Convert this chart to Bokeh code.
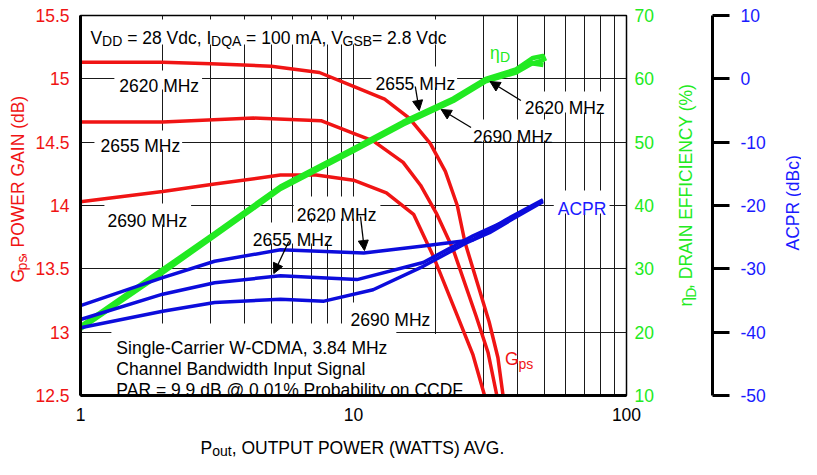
import math
from bokeh.plotting import figure
from bokeh.layouts import row, column
from bokeh.models import (Range1d, LinearAxis, FixedTicker, LogTickFormatter, Label,
                          Arrow, NormalHead, BoxAnnotation)
from bokeh.core.validation import silence
from bokeh.core.validation.warnings import MISSING_RENDERERS
from bokeh.embed import file_html
from bokeh.resources import INLINE

silence(MISSING_RENDERERS, True)

# ---------------- data ----------------
# Power gain (dB) vs Pout (W)
gps_p_2620 = [1, 2, 3, 5, 7.5, 10, 13, 16, 19.1, 21.7, 24, 25.6, 28.4, 31.4, 33.8, 35.3]
gps_2620 = [15.13, 15.13, 15.12, 15.10, 15.05, 14.94, 14.84, 14.69, 14.49, 14.27, 14.0, 13.71, 13.39, 13.08, 12.80, 12.5]
gps_p_2655 = [1, 2, 4.3, 7.6, 10, 11.8, 15.2, 17.6, 20.1, 23.2, 28.1, 31.1, 33.5]
gps_2655 = [14.66, 14.66, 14.69, 14.67, 14.57, 14.51, 14.34, 14.16, 13.94, 13.65, 13.13, 12.84, 12.5]
gps_p_2690 = [1, 2, 3.1, 5.4, 7.3, 10, 13.2, 16.6, 19.6, 23.8, 27.4, 30.2]
gps_2690 = [14.03, 14.11, 14.17, 14.24, 14.24, 14.20, 14.10, 13.93, 13.60, 13.15, 12.82, 12.5]

# Drain efficiency (%) vs Pout (W)
eff_p_2620 = [1, 2, 3.1, 5.4, 10, 15.2, 23.2, 30.5, 39.4, 45.4, 49.4, 50.3]
eff_2620 = [20.9, 29.9, 35.6, 43.0, 49.0, 53.2, 56.9, 60.0, 61.5, 63.3, 63.6, 62.8]
eff_p_2655 = [1, 2, 3.1, 5.4, 10, 15.2, 23.2, 30.5, 39.4, 44.3, 49.6]
eff_2655 = [20.7, 29.6, 35.4, 42.8, 48.8, 53.0, 56.7, 59.8, 61.2, 62.5, 62.2]
eff_p_2690 = [1, 2, 3.1, 5.4, 10, 15.2, 23.2, 30.5, 39.4, 45.0, 50.0]
eff_2690 = [20.5, 29.4, 35.2, 42.6, 48.6, 52.8, 56.5, 59.6, 61.0, 62.4, 63.0]

# ACPR (dBc) vs Pout (W)
acpr_p_2620 = [1, 2, 3.1, 5.4, 10.9, 18, 27.4, 36.3, 49.4]
acpr_2620 = [-35.8, -31.4, -28.8, -27.0, -27.5, -26.4, -25.4, -22.2, -19.1]
acpr_p_2655 = [1, 2, 3.1, 5.4, 10.3, 18, 27.4, 36.3, 49.4]
acpr_2655 = [-38.0, -34.0, -32.2, -31.1, -31.7, -29.0, -24.8, -22.4, -19.3]
acpr_p_2690 = [1, 2, 3.1, 5.4, 7.8, 11.8, 18, 25.9, 31.5, 38.4, 49.4]
acpr_2690 = [-39.3, -36.7, -35.3, -34.8, -35.1, -33.3, -29.6, -25.9, -24.3, -22.1, -19.4]

gain_ticks = [12.5, 13, 13.5, 14, 14.5, 15, 15.5]
gain_tick_labels = ["12.5", "13", "13.5", "14", "14.5", "15", "15.5"]
eff_ticks = [10, 20, 30, 40, 50, 60, 70]
acpr_ticks = [-50, -40, -30, -20, -10, 0, 10]
acpr_tick_labels = ["-50", "-40", "-30", "-20", "-10", "0", "10"]
x_tick_labels = {1: "1", 10: "10", 100: "100"}

# ---------------- style ----------------
FONT = "Liberation Sans"
MAIN = "17.5px"
SUB = "14px"
TICK = "17.5px"
RED = "#f01414"
GREEN = "#22ea22"
BLUE = "#0c0cdc"
BLUE_T = "#1a1aff"
GRID = "#1a1a1a"

ROW_H = 427          # height of the top row (page y 8..435)
FL, FT, FW, FH = 86, 23, 548, 380   # frame position on the page (px)
BOT = ROW_H - 15 - FH


def X(px):
    return 10 ** (2.0 * (px - FL) / FW)


def Y(py):
    return 12.5 + 3.0 * (FT + FH - py) / FH


# ---------------- main plot ----------------
p = figure(width=636, height=ROW_H, x_axis_type="log", title=None,
           x_range=(1, 100), y_range=(12.5, 15.5),
           output_backend="svg", toolbar_location=None,
           min_border_left=46, min_border_right=42, min_border_top=15,
           min_border_bottom=BOT, background_fill_color="white",
           border_fill_color="white", outline_line_color="black",
           outline_line_width=1.5)

p.extra_y_ranges = {"eff": Range1d(10, 70), "acpr": Range1d(-50, 10)}

p.xgrid.grid_line_color = GRID
p.xgrid.minor_grid_line_color = GRID
p.xgrid.grid_line_width = 1
p.xgrid.minor_grid_line_width = 1
p.ygrid.grid_line_color = GRID
p.ygrid.grid_line_width = 1

ya = p.yaxis[0]
ya.ticker = FixedTicker(ticks=gain_ticks)
ya.major_label_overrides = {t: s for t, s in zip(gain_ticks, gain_tick_labels)}
ya.axis_line_width = 3
ya.axis_line_color = "black"
ya.major_tick_line_color = None
ya.minor_tick_line_color = None
ya.major_tick_out = 0
ya.major_tick_in = 0
ya.minor_tick_out = 0
ya.minor_tick_in = 0
ya.major_label_standoff = 11
ya.major_label_text_color = RED
ya.major_label_text_font = FONT
ya.major_label_text_font_size = TICK

xa = p.xaxis[0]
xa.formatter = LogTickFormatter(min_exponent=3)
xa.major_label_overrides = x_tick_labels
xa.axis_line_width = 3
xa.axis_line_color = "black"
xa.major_tick_line_color = None
xa.minor_tick_line_color = None
xa.major_tick_out = 0
xa.major_tick_in = 0
xa.minor_tick_out = 0
xa.minor_tick_in = 0
xa.major_label_standoff = 12
xa.major_label_text_color = "black"
xa.major_label_text_font = FONT
xa.major_label_text_font_size = TICK

ea = LinearAxis(y_range_name="eff", ticker=FixedTicker(ticks=eff_ticks),
                axis_line_color=None, major_tick_line_color=None,
                minor_tick_line_color=None, major_tick_out=0, major_tick_in=0,
                minor_tick_out=0, minor_tick_in=0, major_label_standoff=8,
                major_label_text_color=GREEN, major_label_text_font=FONT,
                major_label_text_font_size=TICK)
p.add_layout(ea, "right")


def wbox(x0, y0, x1, y1):
    p.add_layout(BoxAnnotation(left=X(x0), right=X(x1), top=Y(y0), bottom=Y(y1),
                               fill_color="white", fill_alpha=1.0, line_color=None,
                               level="underlay"))


wbox(92, 27, 456, 52)
wbox(120, 78, 208, 97)
wbox(100, 138, 188, 157)
wbox(110, 211, 197, 232)
wbox(378, 74, 464, 95)
wbox(528, 99, 614, 120)
wbox(476, 127, 561, 148)
wbox(300, 204, 387, 226)
wbox(256, 230, 340, 251)
wbox(353, 310, 439, 331)
wbox(561, 198, 617, 221)
wbox(117, 331, 403, 403)
wbox(403, 341.5, 472, 403)

for px, gy in [(gps_p_2620, gps_2620), (gps_p_2655, gps_2655), (gps_p_2690, gps_2690)]:
    p.line(px, gy, line_color=RED, line_width=3.5, line_join="round")
for px, ey in [(eff_p_2620, eff_2620), (eff_p_2655, eff_2655), (eff_p_2690, eff_2690)]:
    p.line(px, ey, line_color=GREEN, line_width=4.5, line_join="round", y_range_name="eff")
for px, ay in [(acpr_p_2620, acpr_2620), (acpr_p_2655, acpr_2655), (acpr_p_2690, acpr_2690)]:
    p.line(px, ay, line_color=BLUE, line_width=3.5, line_join="round", y_range_name="acpr")


def lab(fig, x, y, text, color="black", size=MAIN, angle=0.0):
    fig.add_layout(Label(x=x, y=y, text=text, text_font=FONT, text_font_size=size,
                         text_color=color, text_align="left", text_baseline="alphabetic",
                         angle=angle))


def plab(px, py, text, color="black", size=MAIN):
    lab(p, X(px), Y(py), text, color, size)


def arrow(x0, y0, x1, y1):
    p.add_layout(Arrow(end=NormalHead(size=10, fill_color="black", line_color="black", line_width=1),
                       x_start=X(x0), y_start=Y(y0), x_end=X(x1), y_end=Y(y1),
                       line_color="black", line_width=1.3))


# bias conditions
plab(96, 45, "V")
plab(107.7, 48.5, "DD", size=SUB)
plab(132.8, 45, "= 28 Vdc, I")
plab(217, 48.5, "DQA", size=SUB)
plab(252.2, 45, "= 100 mA, V")
plab(349, 48.5, "GSB", size=SUB)
plab(378.6, 45, "= 2.8 Vdc")

# gain curve labels
plab(125, 93, "2620 MHz")
plab(106, 153, "2655 MHz")
plab(113, 228, "2690 MHz")

# efficiency labels
plab(382, 91, "2655 MHz")
plab(532, 115, "2620 MHz")
plab(480, 144, "2690 MHz")
arrow(422, 94, 426, 118)
arrow(478, 135, 448, 117)
arrow(528, 108, 497, 89)

# ACPR labels
plab(303, 222, "2620 MHz")
plab(259, 247, "2655 MHz")
plab(357, 327, "2690 MHz")
arrow(367, 224, 371, 258)
arrow(295, 249, 280, 281)

# series tags
plab(565, 216, "ACPR", color=BLUE_T)
plab(512, 366, "G", color=RED)
plab(525.5, 371, "ps", color=RED, size=SUB)
plab(497, 60, "\u03b7", color=GREEN)
plab(507, 64, "D", color=GREEN, size=SUB)

# signal description
plab(122, 355, "Single-Carrier W-CDMA, 3.84 MHz")
plab(122, 376, "Channel Bandwidth Input Signal")
plab(122, 397, "PAR = 9.9 dB @ 0.01% Probability on CCDF")


# ---------------- helper figures for titles / ACPR axis ----------------
def text_fig(w, h):
    f = figure(width=w, height=h, x_range=Range1d(0, w), y_range=Range1d(h, 0),
               title=None, min_border=0, x_axis_location=None, y_axis_location=None,
               toolbar_location=None, output_backend="svg", outline_line_color=None,
               background_fill_color="white", border_fill_color="white")
    f.xgrid.grid_line_color = None
    f.ygrid.grid_line_color = None
    return f


V = math.pi / 2

# left title (page x 8..40)
left_f = text_fig(32, ROW_H)
lab(left_f, 17, 300, "G", color=RED, angle=V)
lab(left_f, 21, 286.4, "ps", color=RED, size=SUB, angle=V)
lab(left_f, 17, 271.6, ", POWER GAIN (dB)", color=RED, angle=V)

# efficiency title (page x 676..705)
eff_f = text_fig(29, ROW_H)
lab(eff_f, 17, 327, "\u03b7", color=GREEN, angle=V)
lab(eff_f, 22, 317.3, "D", color=GREEN, size=SUB, angle=V)
lab(eff_f, 17, 307.2, ", DRAIN EFFICIENCY (%)", color=GREEN, angle=V)

# ACPR axis (page x 705..784), axis line at page x 720
acpr_f = figure(width=79, height=ROW_H, x_range=Range1d(0, 1), y_range=Range1d(-50, 10),
                title=None, min_border_left=5, min_border_right=64, min_border_top=15,
                min_border_bottom=BOT, x_axis_location=None, y_axis_location="right",
                toolbar_location=None, output_backend="svg", outline_line_color=None,
                background_fill_color="white", border_fill_color="white")
acpr_f.xgrid.grid_line_color = None
acpr_f.ygrid.grid_line_color = None
aa = acpr_f.yaxis[0]
aa.ticker = FixedTicker(ticks=acpr_ticks)
aa.major_label_overrides = {t: s for t, s in zip(acpr_ticks, acpr_tick_labels)}
aa.axis_line_color = "black"
aa.axis_line_width = 3
aa.major_tick_line_color = "black"
aa.major_tick_line_width = 3
aa.major_tick_out = 17
aa.major_tick_in = 0
aa.minor_tick_line_color = None
aa.minor_tick_out = 0
aa.minor_tick_in = 0
aa.major_label_standoff = 11
aa.major_label_text_color = BLUE_T
aa.major_label_text_font = FONT
aa.major_label_text_font_size = TICK

# ACPR title (page x 784..809)
acpr_t = text_fig(25, ROW_H)
lab(acpr_t, 16, 264, "ACPR (dBc)", color=BLUE_T, angle=V)

# x title (page y 435..467)
x_f = text_fig(801, 32)
lab(x_f, 200, 20, "P")
lab(x_f, 211.7, 23.5, "out", size=SUB)
lab(x_f, 231.2, 20, ", OUTPUT POWER (WATTS) AVG.")

layout = column(row(left_f, p, eff_f, acpr_f, acpr_t), x_f)

open("out.html", "w").write(file_html(layout, INLINE))
